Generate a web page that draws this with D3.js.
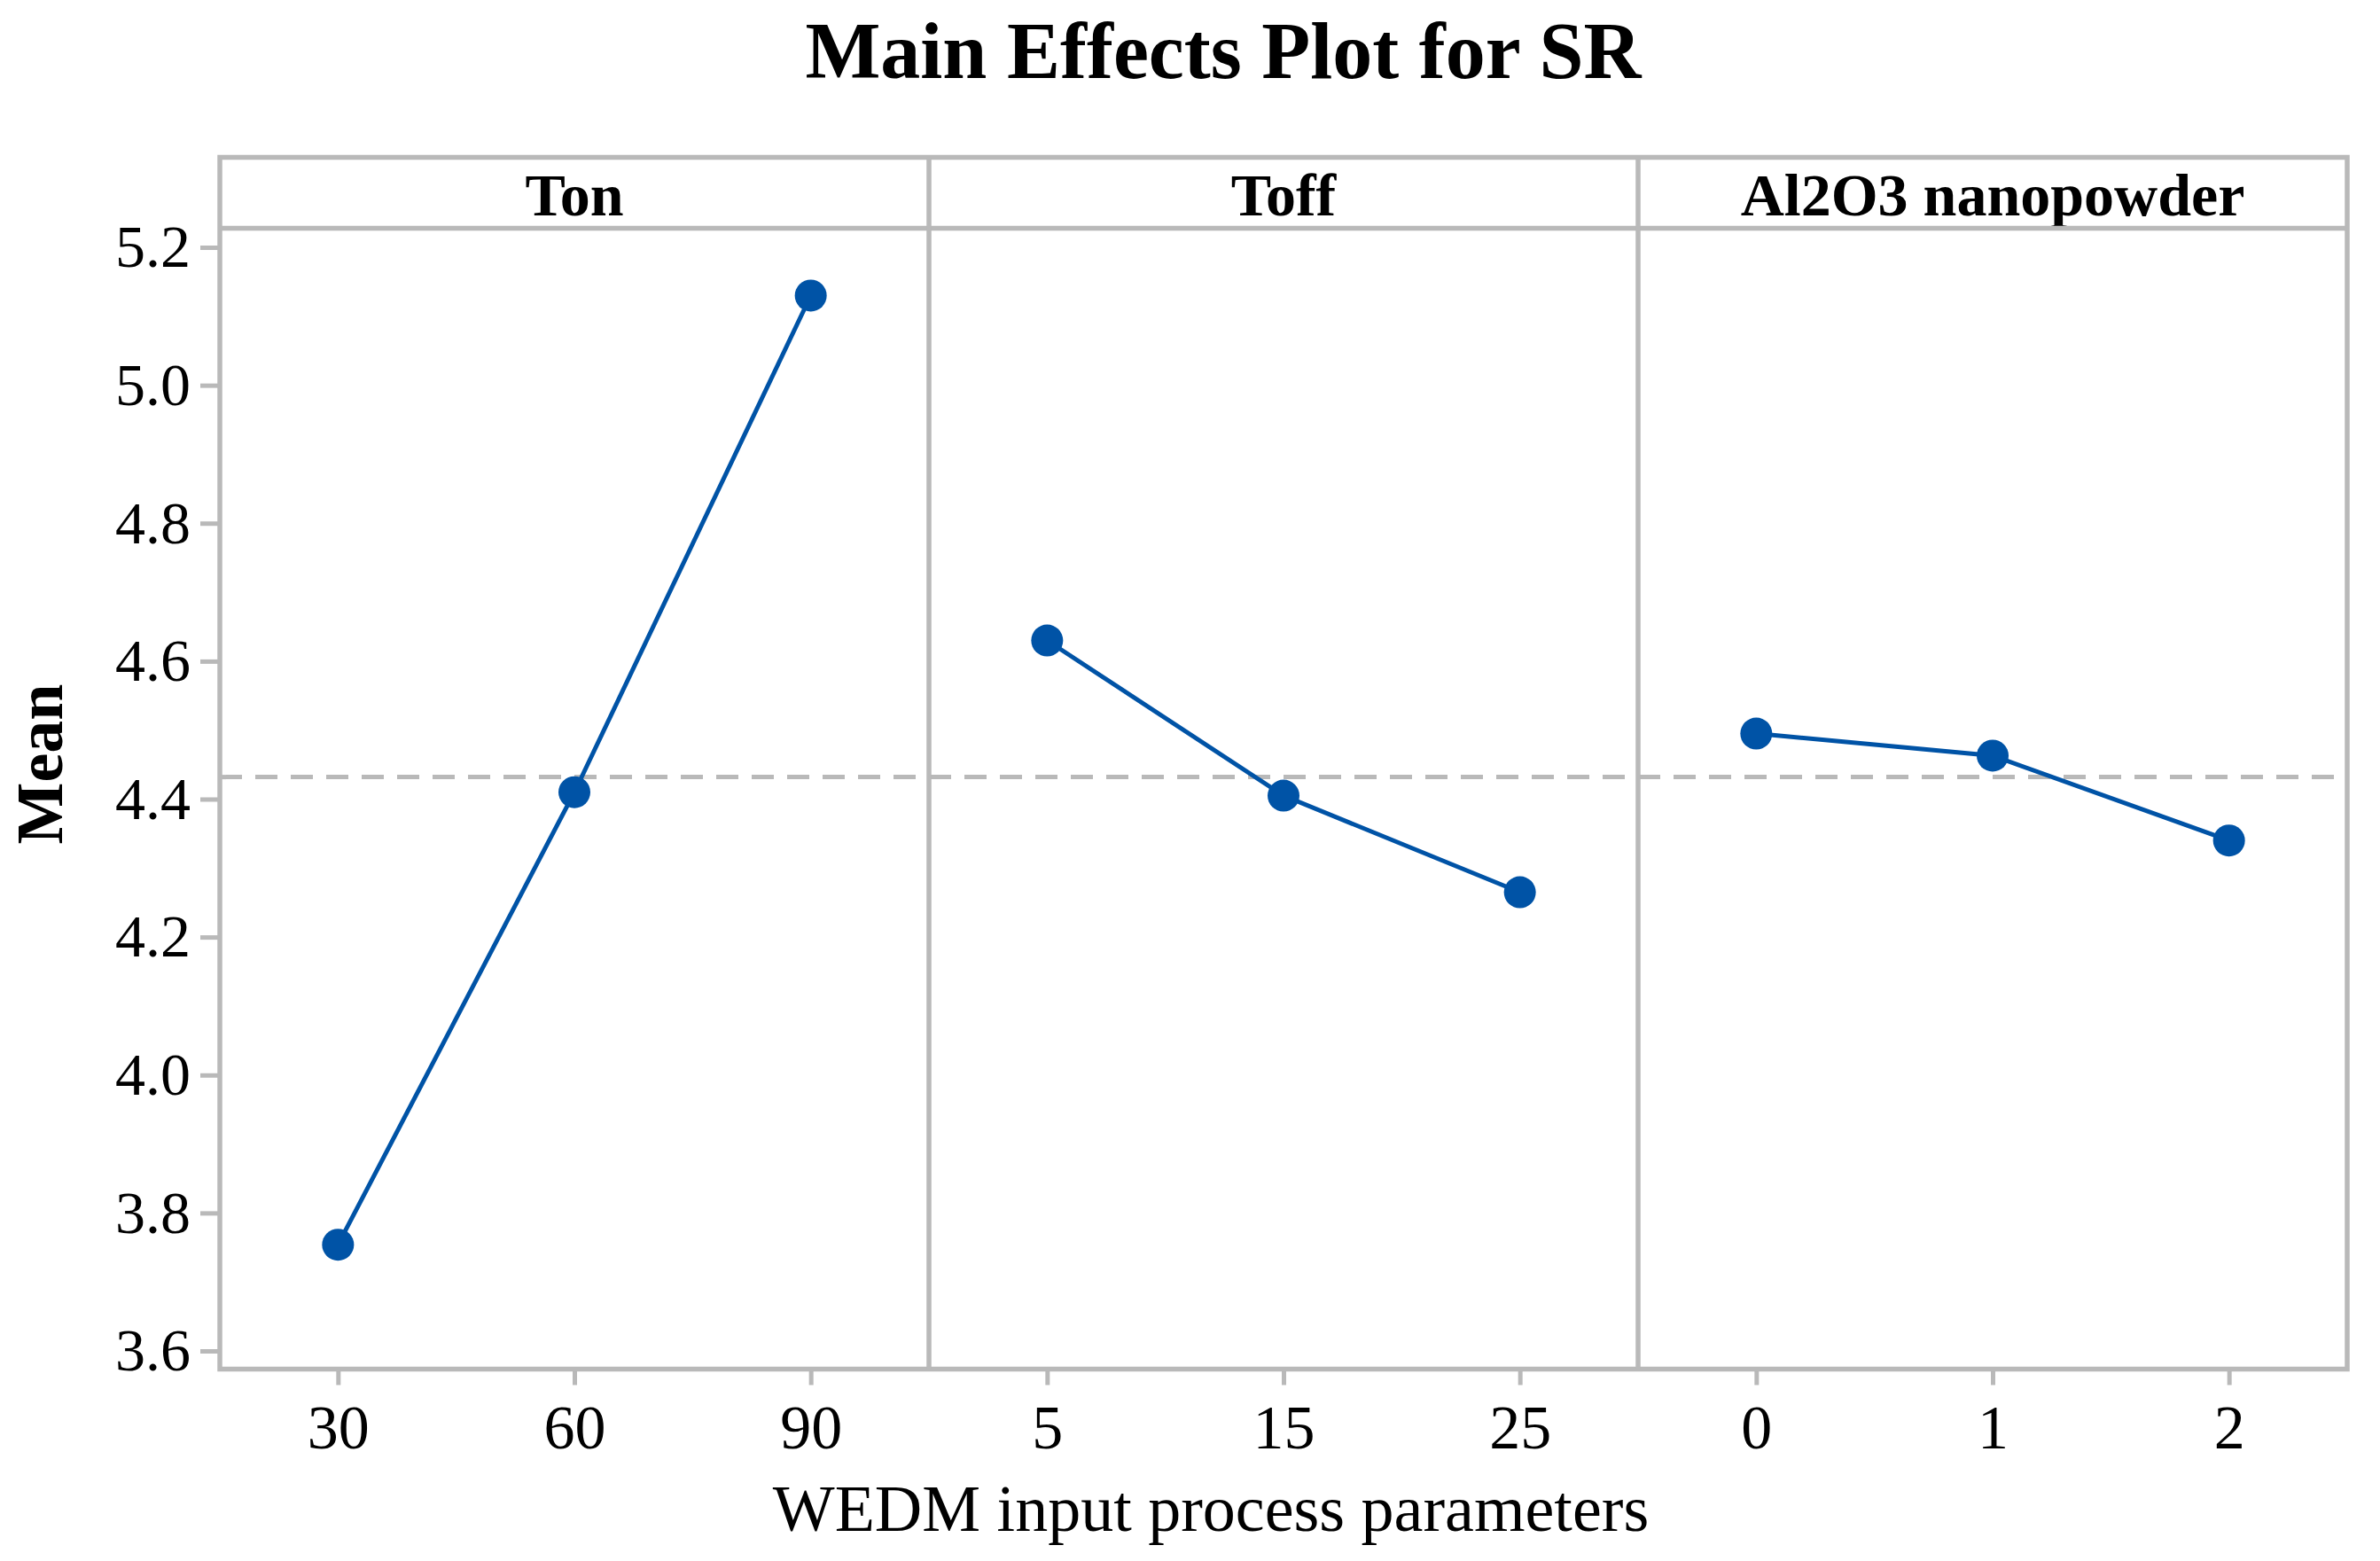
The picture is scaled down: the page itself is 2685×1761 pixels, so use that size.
<!DOCTYPE html>
<html>
<head>
<meta charset="utf-8">
<script src="https://cdn.jsdelivr.net/npm/d3@7"></script>
<style>
  body { margin: 0; background: #fff; }
  svg text { font-family: "Liberation Serif", "Times New Roman", serif; fill: #000; }
</style>
</head>
<body>
<div id="chart"></div>
<script>
// data
var factors = ["Ton", "Toff", "Al2O3 nanopowder"];
var tonLevels = ["30", "60", "90"];
var toffLevels = ["5", "15", "25"];
var al2o3Levels = ["0", "1", "2"];
var tonMeans = [3.754, 4.41, 5.13];
var toffMeans = [4.63, 4.405, 4.265];
var al2o3Means = [4.495, 4.463, 4.34];
var grandMean = 4.432;
var yTicks = [3.6, 3.8, 4.0, 4.2, 4.4, 4.6, 4.8, 5.0, 5.2];

var levels = [tonLevels, toffLevels, al2o3Levels];
var means = [tonMeans, toffMeans, al2o3Means];

var W = 2685, H = 1761;
var frameL = 248, frameR = 2648, frameT = 177.5, stripB = 257.5, frameB = 1544.5;
var panelW = (frameR - frameL) / factors.length;
var grey = "#b9b9b9", blue = "#0053a6";

var svg = d3.select("#chart").append("svg")
    .attr("width", W)
    .attr("height", H);

// y scale: 5.2 at 279, 3.6 at 1524
var y = d3.scaleLinear().domain([3.6, 5.2]).range([1524, 279]);

// title
svg.append("text")
    .attr("x", 1380)
    .attr("y", 88)
    .attr("text-anchor", "middle")
    .attr("font-size", 90)
    .attr("font-weight", "bold")
    .text("Main Effects Plot for SR");

// mean dashed line (under the data)
svg.append("line")
    .attr("x1", frameL).attr("x2", frameR)
    .attr("y1", y(grandMean)).attr("y2", y(grandMean))
    .attr("stroke", grey)
    .attr("stroke-width", 5)
    .attr("stroke-dasharray", "25,15");

factors.forEach(function(f, i) {
  var x0 = frameL + i * panelW, x1 = x0 + panelW;
  var x = d3.scalePoint().domain(levels[i]).range([x0, x1]).padding(0.5);

  // strip label
  svg.append("text")
      .attr("x", (x0 + x1) / 2)
      .attr("y", 243)
      .attr("text-anchor", "middle")
      .attr("font-size", 68)
      .attr("font-weight", "bold")
      .text(f);

  // x axis
  var gx = svg.append("g")
      .attr("transform", "translate(0," + frameB + ")")
      .call(d3.axisBottom(x).tickSize(18).tickPadding(22));
  gx.select(".domain").remove();
  gx.selectAll(".tick line").attr("stroke", grey).attr("stroke-width", 5);
  gx.selectAll(".tick text").attr("font-size", 70).attr("font-family", null).attr("fill", "#000");

  var pts = levels[i].map(function(l, j) { return [l, means[i][j]]; });

  svg.append("path")
      .datum(pts)
      .attr("fill", "none")
      .attr("stroke", blue)
      .attr("stroke-width", 5)
      .attr("d", d3.line().x(function(d) { return x(d[0]); }).y(function(d) { return y(d[1]); }));

  svg.selectAll(".dot" + i)
      .data(pts)
      .enter()
      .append("circle")
      .attr("cx", function(d) { return x(d[0]); })
      .attr("cy", function(d) { return y(d[1]); })
      .attr("r", 18)
      .attr("fill", blue);
});

// y axis
var gy = svg.append("g")
    .attr("transform", "translate(" + frameL + ",0)")
    .call(d3.axisLeft(y).tickValues(yTicks).tickFormat(d3.format(".1f")).tickSize(22).tickPadding(11));
gy.select(".domain").remove();
gy.selectAll(".tick line").attr("stroke", grey).attr("stroke-width", 5);
gy.selectAll(".tick text").attr("font-size", 68).attr("font-family", null).attr("fill", "#000");

// frame, strip line and panel dividers
svg.append("rect")
    .attr("x", frameL).attr("y", frameT)
    .attr("width", frameR - frameL).attr("height", frameB - frameT)
    .attr("fill", "none")
    .attr("stroke", grey)
    .attr("stroke-width", 5.5);
svg.append("line")
    .attr("x1", frameL).attr("x2", frameR)
    .attr("y1", stripB).attr("y2", stripB)
    .attr("stroke", grey).attr("stroke-width", 5.5);
[1, 2].forEach(function(k) {
  svg.append("line")
      .attr("x1", frameL + k * panelW).attr("x2", frameL + k * panelW)
      .attr("y1", frameT).attr("y2", frameB)
      .attr("stroke", grey).attr("stroke-width", 5.5);
});

// axis titles
svg.append("text")
    .attr("x", 1366)
    .attr("y", 1727)
    .attr("text-anchor", "middle")
    .attr("font-size", 74)
    .text("WEDM input process parameters");

svg.append("text")
    .attr("transform", "translate(70,862) rotate(-90)")
    .attr("text-anchor", "middle")
    .attr("font-size", 74)
    .attr("font-weight", "bold")
    .text("Mean");
</script>
</body>
</html>
